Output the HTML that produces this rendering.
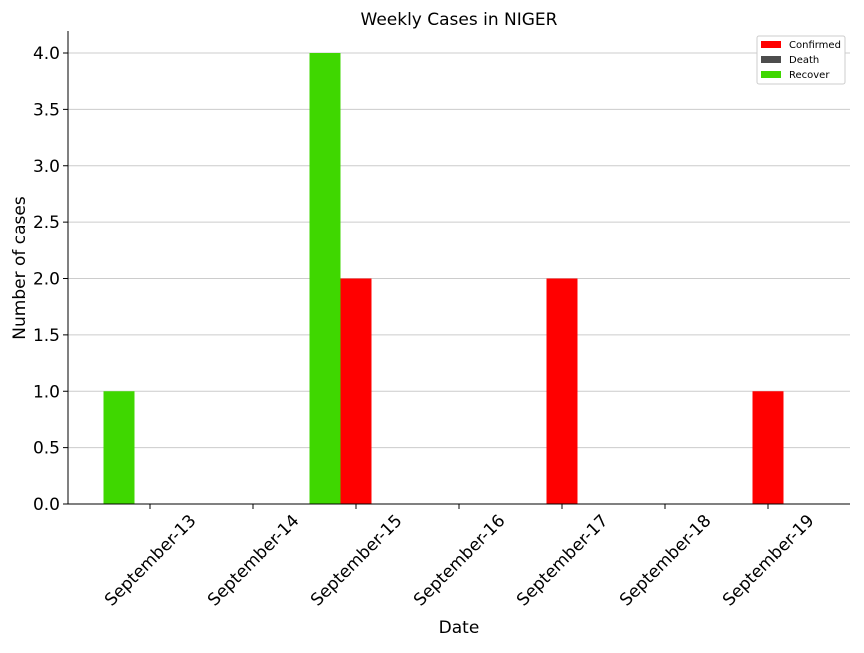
<!DOCTYPE html>
<html><head><meta charset="utf-8"><style>
html,body{margin:0;padding:0;background:#fff;}
svg text{font-family:"DejaVu Sans","Liberation Sans",sans-serif;fill:#000;}
</style></head><body>
<svg id="chart" width="864" height="648" viewBox="0 0 864 648" xmlns="http://www.w3.org/2000/svg">
<rect width="864" height="648" fill="#fff"/>
<text x="459" y="25" text-anchor="middle" font-size="17">Weekly Cases in NIGER</text>
<g id="grid"></g>
<g id="bars"></g>
<g id="axes"></g>
<text x="459" y="633" text-anchor="middle" font-size="17">Date</text>
<text transform="translate(25,268) rotate(-90)" text-anchor="middle" font-size="17">Number of cases</text>
<g>
<rect x="757" y="36" width="88" height="48" rx="2" fill="#fff" stroke="#ccc" stroke-width="1"/>
<rect x="761" y="41" width="20" height="7" fill="#ff0000"/>
<text x="789" y="48" font-size="10">Confirmed</text>
<rect x="761" y="56" width="20" height="7" fill="#4d4d4d"/>
<text x="789" y="63" font-size="10">Death</text>
<rect x="761" y="71" width="20" height="7" fill="#3fd700"/>
<text x="789" y="78" font-size="10">Recover</text>
</g>
</svg>
<script>
const categories = ["September-13","September-14","September-15","September-16","September-17","September-18","September-19"];
const confirmed = [0,0,2,0,2,0,1];
const death = [0,0,0,0,0,0,0];
const recover = [1,0,4,0,0,0,0];
const yTicks = [0,0.5,1,1.5,2,2.5,3,3.5,4];
const yTickLabels = ["0.0","0.5","1.0","1.5","2.0","2.5","3.0","3.5","4.0"];

const NS = "http://www.w3.org/2000/svg";
const x0 = 68, x1 = 850, yBase = 504, yPerUnit = 112.75;
const firstTick = 150, step = 103, bw = 31;
function xScale(i){ return firstTick + i*step; }
function yScale(v){ return yBase - v*yPerUnit; }
function mk(tag, attrs, parent){ const e = document.createElementNS(NS, tag); for (const k in attrs) e.setAttribute(k, attrs[k]); parent.appendChild(e); return e; }

const grid = document.getElementById('grid');
const axes = document.getElementById('axes');
const bars = document.getElementById('bars');

yTicks.forEach((v,i)=>{
  const y = yScale(v);
  if (v > 0) {
    const g = mk('line',{x1:x0,x2:x1,y1:y,y2:y,stroke:'#cccccc','stroke-width':1},grid);
    
    
  }
  mk('line',{x1:x0-5,x2:x0,y1:y,y2:y,stroke:'#000','stroke-width':1},axes);
  const t = mk('text',{x:x0-8,y:y+6,'text-anchor':'end','font-size':17},axes);
  t.textContent = yTickLabels[i];
  
  
});

const series = [
  {vals: recover, off: -1, color:'#3fd700', name:'bar-recover'},
  {vals: confirmed, off: 0, color:'#ff0000', name:'bar-confirmed'},
  {vals: death, off: 1, color:'#4d4d4d', name:'bar-death'}
];
series.forEach(s=>{
  s.vals.forEach((v,i)=>{
    if (v <= 0) return;
    const cx = xScale(i) + s.off*bw;
    const r = mk('rect',{x:cx-bw/2, y:yScale(v), width:bw, height:yBase-yScale(v), fill:s.color},bars);
    
    
  });
});

mk('line',{x1:x0,x2:x0,y1:31,y2:yBase,stroke:'#000','stroke-width':1},axes);
mk('line',{x1:x0,x2:x1,y1:yBase,y2:yBase,stroke:'#000','stroke-width':1},axes);

categories.forEach((c,i)=>{
  const x = xScale(i);
  mk('line',{x1:x,x2:x,y1:yBase,y2:yBase+5,stroke:'#000','stroke-width':1},axes);
  const t = mk('text',{x:0,y:6,'text-anchor':'middle','font-size':17,transform:`translate(${x},${yBase+56}) rotate(-45)`},axes);
  t.textContent = c;
  
  
});
</script>
</body></html>
